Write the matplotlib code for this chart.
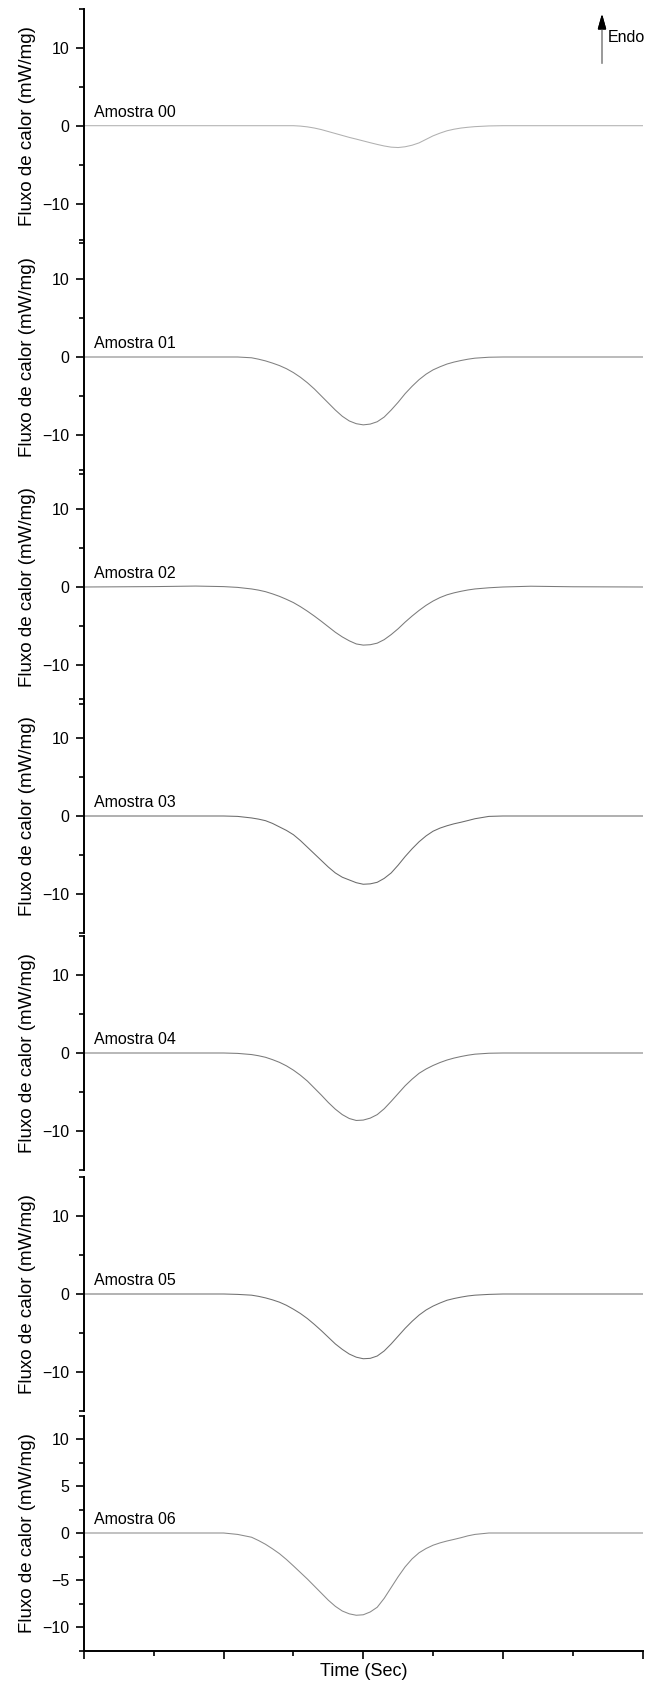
import matplotlib
matplotlib.use("Agg")
import matplotlib.pyplot as plt
from matplotlib.lines import Line2D

plt.rcParams['font.family'] = ['Liberation Sans', 'DejaVu Sans']

W, H = 651, 1686  # [px]

# DSC traces, one per sample (time in arbitrary units, heat flow in mW/mg)
TIME = [0.0, 0.5, 0.8, 1.0, 1.1,
        1.2, 1.25, 1.3, 1.35, 1.4, 1.45, 1.5, 1.55, 1.6, 1.65, 1.7, 1.75,
        1.8, 1.85, 1.9, 1.95, 2.0, 2.05, 2.1, 2.15, 2.2, 2.25, 2.3, 2.35,
        2.4, 2.45, 2.5, 2.55, 2.6, 2.65, 2.7, 2.75, 2.8,
        2.9, 3.0, 3.2, 3.5, 4.0]

amostra_00 = [0, 0, 0, 0, 0,
              0, 0, 0, 0, 0, 0, 0, -0.05, -0.15, -0.3, -0.5, -0.75,
              -1.0, -1.25, -1.5, -1.72, -1.95, -2.18, -2.4, -2.6, -2.75, -2.8,
              -2.7, -2.5, -2.2, -1.75, -1.3, -0.95, -0.65, -0.45, -0.3, -0.2,
              -0.12,
              -0.03, 0, 0, 0, 0]
amostra_01 = [0, 0, 0, 0, 0,
              -0.1, -0.28, -0.5, -0.78, -1.1, -1.5, -2.0, -2.6, -3.3, -4.1,
              -5.0, -5.9, -6.8, -7.6, -8.2, -8.55, -8.7, -8.6, -8.3, -7.7,
              -6.8, -5.8, -4.7, -3.75, -2.9, -2.2, -1.65, -1.25, -0.9, -0.65,
              -0.45, -0.28, -0.15,
              -0.03, 0, 0, 0, 0]
amostra_02 = [0, 0.05, 0.12, 0.05, -0.05,
              -0.25, -0.4, -0.6, -0.88, -1.2, -1.58, -2.0, -2.52, -3.1, -3.73,
              -4.4, -5.1, -5.8, -6.4, -6.9, -7.3, -7.45, -7.4, -7.2, -6.75,
              -6.1, -5.35, -4.5, -3.72, -3.0, -2.35, -1.8, -1.35, -1.0, -0.75,
              -0.55, -0.38, -0.25,
              -0.1, 0, 0.1, 0.03, 0]
amostra_03 = [0, 0, 0, 0, -0.05,
              -0.25, -0.4, -0.6, -0.95, -1.4, -1.85, -2.4, -3.15, -4.0, -4.85,
              -5.7, -6.55, -7.3, -7.85, -8.2, -8.55, -8.75, -8.7, -8.5, -8.0,
              -7.3, -6.3, -5.2, -4.2, -3.3, -2.55, -1.95, -1.55, -1.25, -1.0,
              -0.8, -0.58, -0.35,
              -0.05, 0, 0, 0, 0]
amostra_04 = [0, 0, 0, 0, -0.05,
              -0.2, -0.35, -0.55, -0.85, -1.2, -1.65, -2.2, -2.85, -3.6, -4.5,
              -5.4, -6.35, -7.2, -7.9, -8.4, -8.65, -8.6, -8.35, -7.9, -7.15,
              -6.2, -5.2, -4.2, -3.35, -2.6, -2.05, -1.6, -1.22, -0.9, -0.65,
              -0.45, -0.28, -0.15,
              -0.03, 0, 0, 0, 0]
amostra_05 = [0, 0, 0, 0, -0.05,
              -0.15, -0.3, -0.5, -0.75, -1.05, -1.45, -1.95, -2.5, -3.15, -3.9,
              -4.7, -5.55, -6.4, -7.1, -7.7, -8.1, -8.3, -8.25, -7.95, -7.3,
              -6.4, -5.4, -4.4, -3.5, -2.7, -2.05, -1.55, -1.15, -0.8, -0.58,
              -0.4, -0.25, -0.15,
              -0.05, 0, 0, 0, 0]
amostra_06 = [0, 0, 0, 0, -0.15,
              -0.45, -0.8, -1.2, -1.68, -2.2, -2.82, -3.5, -4.2, -4.9, -5.65,
              -6.4, -7.15, -7.8, -8.3, -8.6, -8.75, -8.7, -8.4, -7.9, -6.95,
              -5.8, -4.65, -3.6, -2.75, -2.1, -1.65, -1.3, -1.05, -0.85, -0.68,
              -0.5, -0.3, -0.15,
              0, 0, 0, 0, 0]

SAMPLES = [amostra_00, amostra_01, amostra_02, amostra_03,
           amostra_04, amostra_05, amostra_06]
NAMES = ["Amostra 00", "Amostra 01", "Amostra 02", "Amostra 03",
         "Amostra 04", "Amostra 05", "Amostra 06"]
for s in SAMPLES:
    assert len(s) == len(TIME)

# zero-line row of each panel [px from top] and half height [px]
ZERO_PX = [125.7, 357, 587, 816, 1053, 1294, 1533]
HALF_PX = [117, 117, 117, 117, 117, 117, 117.5]
Y_LIM = [15, 15, 15, 15, 15, 15, 12.5]
LINE_COLORS = ['#b0b0b0', '#808080', '#7a7a7a', '#6a6a6a',
               '#7a7a7a', '#6f6f6f', '#8a8a8a']

X_LEFT, X_RIGHT = 84, 642.5

fig = plt.figure(figsize=(W / 100, H / 100), dpi=100)

for i, (ys, name) in enumerate(zip(SAMPLES, NAMES)):
    top = ZERO_PX[i] - HALF_PX[i]
    bottom = ZERO_PX[i] + HALF_PX[i]
    ax = fig.add_axes([X_LEFT / W, 1 - bottom / H,
                       (X_RIGHT - X_LEFT) / W, (bottom - top) / H])
    ax.patch.set_alpha(0)
    ax.plot(TIME, ys, color=LINE_COLORS[i], lw=0.75)
    lim = Y_LIM[i]
    ax.set_xlim(0, 4)
    ax.set_ylim(-lim, lim)

    for side in ('top', 'right'):
        ax.spines[side].set_visible(False)
    ax.spines['left'].set_linewidth(1.4)

    if lim == 15:
        ax.set_yticks([-10, 0, 10])
        ax.set_yticks([-15, -5, 5, 15], minor=True)
    else:
        ax.set_yticks([-10, -5, 0, 5, 10])
        ax.set_yticks([-12.5, -7.5, -2.5, 2.5, 7.5, 12.5], minor=True)
    ax.tick_params(axis='y', which='major', direction='out', length=6,
                   width=1.2, labelsize=11.5, pad=4.5)
    ax.tick_params(axis='y', which='minor', direction='out', length=3.5,
                   width=1.2)

    ax.set_ylabel("Fluxo de calor (mW/mg)", fontsize=13.5)
    ax.yaxis.set_label_coords(-0.086, 0.5)

    ax.annotate(name, xy=(0.075, 0), xytext=(0, 4),
                textcoords='offset points', fontsize=11.5,
                ha='left', va='bottom')

    if i < len(SAMPLES) - 1:
        ax.spines['bottom'].set_visible(False)
        ax.set_xticks([])
    else:
        ax.spines['bottom'].set_linewidth(1.4)
        ax.set_xticks([0, 1, 2, 3, 4])
        ax.set_xticks([0.5, 1.5, 2.5, 3.5], minor=True)
        ax.set_xticklabels([])
        ax.tick_params(axis='x', which='major', direction='out', length=6,
                       width=1.2)
        ax.tick_params(axis='x', which='minor', direction='out', length=3.5,
                       width=1.2)
        ax.set_xlabel("Time (Sec)", fontsize=13)
        ax.xaxis.set_label_coords(0.5, -0.055)

# endothermic direction marker
fig.add_artist(Line2D([602 / W, 602 / W], [1 - 63 / H, 1 - 24 / H],
                      color='#888888', lw=1.2))
fig.add_artist(plt.annotate('', xy=(602, H - 11), xytext=(602, H - 26),
                            xycoords='figure pixels',
                            textcoords='figure pixels',
                            arrowprops=dict(arrowstyle='-|>,head_length=0.9,head_width=0.25',
                                            color='black', lw=1.0)))
fig.text(608 / W, 1 - 37.5 / H, "Endo", fontsize=11.5, ha='left', va='center')

fig.savefig("out.png", dpi=100)
